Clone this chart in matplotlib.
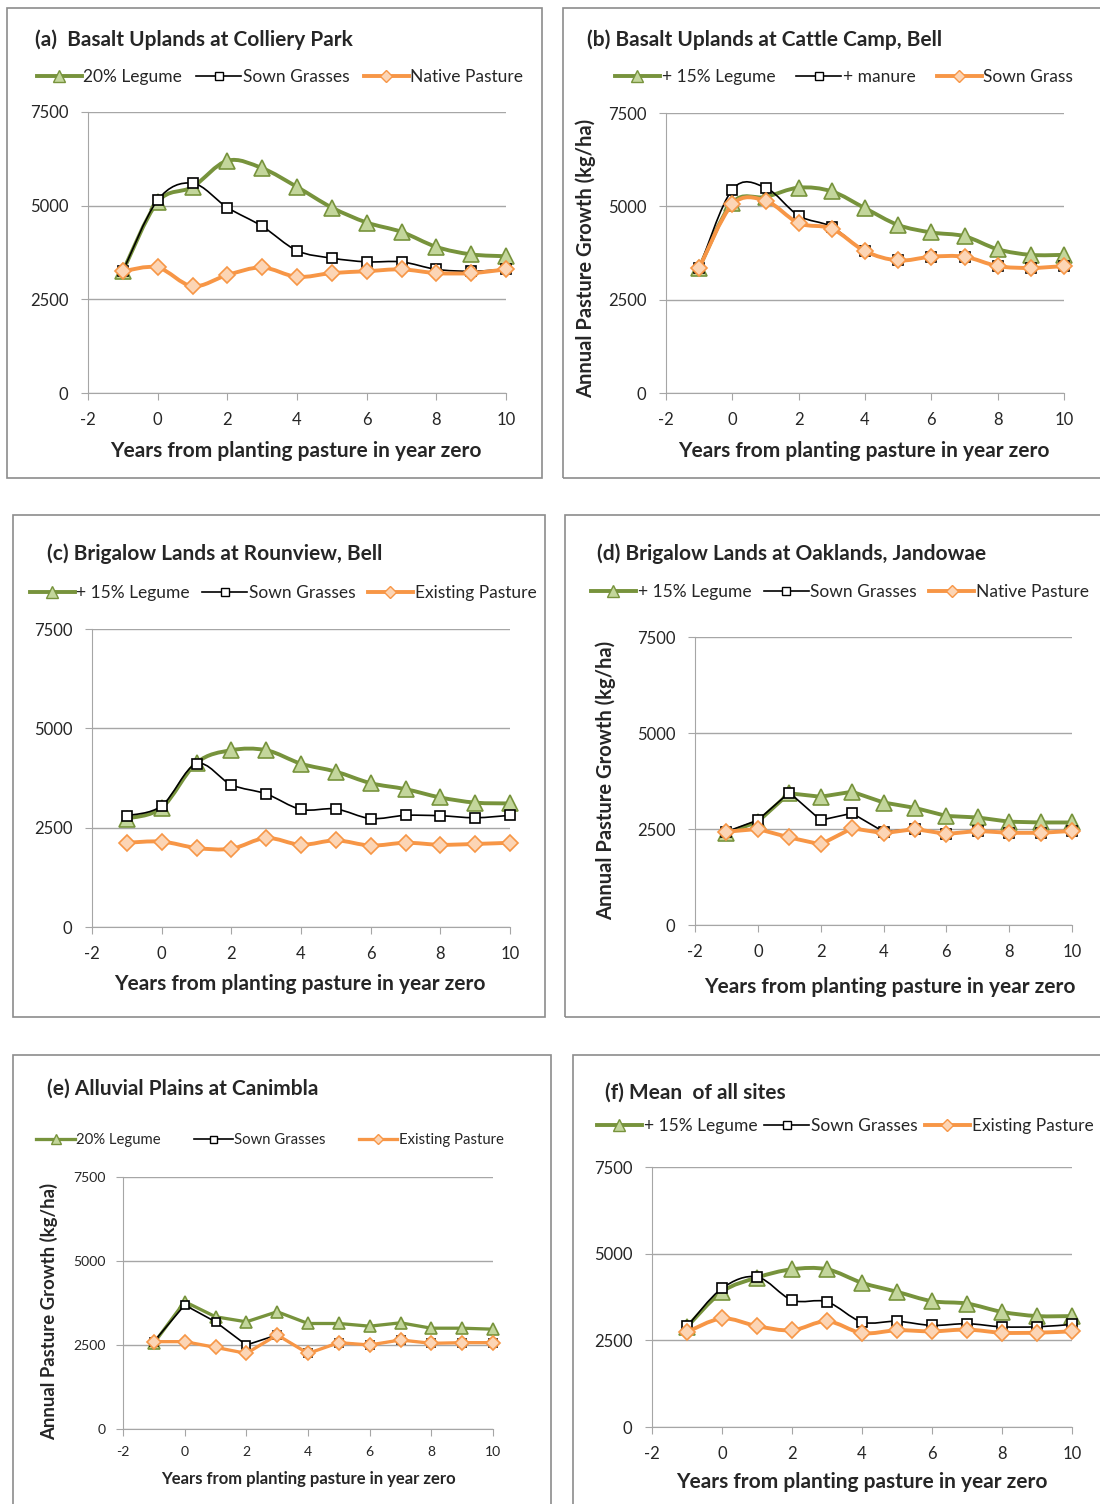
import matplotlib
matplotlib.use('Agg')
import matplotlib.pyplot as plt
from matplotlib.path import Path
from matplotlib.patches import PathPatch, Rectangle
from matplotlib.lines import Line2D

plt.rcParams['font.family'] = ['Lato', 'DejaVu Sans']
plt.rcParams['axes.unicode_minus'] = False

W, H = 1100, 1504

YEARS = [-1, 0, 1, 2, 3, 4, 5, 6, 7, 8, 9, 10]

# (a) Basalt Uplands at Colliery Park
a_legume = [3250, 5100, 5500, 6200, 6000, 5500, 4950, 4550, 4300, 3900, 3700, 3650]
a_sown = [3250, 5150, 5600, 4950, 4450, 3800, 3600, 3500, 3500, 3300, 3250, 3300]
a_native = [3250, 3350, 2850, 3150, 3350, 3100, 3200, 3250, 3300, 3200, 3200, 3300]

# (b) Basalt Uplands at Cattle Camp, Bell
b_legume = [3350, 5100, 5250, 5500, 5400, 4950, 4500, 4300, 4200, 3850, 3700, 3700]
b_manure = [3350, 5450, 5500, 4750, 4450, 3800, 3550, 3650, 3650, 3400, 3350, 3400]
b_sown = [3350, 5050, 5150, 4550, 4400, 3800, 3550, 3650, 3650, 3400, 3350, 3400]

# (c) Brigalow Lands at Rounview, Bell
c_legume = [2730, 3000, 4130, 4450, 4450, 4110, 3910, 3620, 3470, 3260, 3130, 3110]
c_sown = [2800, 3050, 4110, 3580, 3350, 2960, 2970, 2730, 2810, 2800, 2750, 2810]
c_existing = [2120, 2150, 1990, 1970, 2240, 2070, 2180, 2050, 2120, 2070, 2090, 2120]

# (d) Brigalow Lands at Oaklands, Jandowae
d_legume = [2390, 2690, 3430, 3340, 3470, 3190, 3050, 2840, 2800, 2690, 2670, 2670]
d_sown = [2430, 2730, 3450, 2730, 2910, 2430, 2500, 2370, 2450, 2400, 2400, 2450]
d_native = [2430, 2500, 2280, 2100, 2520, 2390, 2500, 2370, 2450, 2400, 2400, 2450]

# (e) Alluvial Plains at Canimbla
e_legume = [2550, 3790, 3340, 3190, 3490, 3140, 3140, 3060, 3160, 3000, 3000, 2970]
e_sown = [2600, 3690, 3190, 2500, 2800, 2250, 2570, 2500, 2650, 2550, 2570, 2570]
e_existing = [2600, 2600, 2430, 2250, 2800, 2250, 2570, 2500, 2650, 2550, 2570, 2570]

# (f) Mean of all sites
f_legume = [2890, 3900, 4310, 4550, 4550, 4160, 3900, 3630, 3560, 3320, 3200, 3200]
f_sown = [2900, 4000, 4330, 3660, 3610, 3030, 3050, 2930, 2980, 2890, 2890, 2960]
f_existing = [2740, 3130, 2910, 2790, 3050, 2710, 2790, 2760, 2810, 2720, 2720, 2760]

GREEN, GREEN_FILL = '#77933C', '#C3D69B'
ORANGE, ORANGE_FILL = '#F79646', '#FCD5B5'
GRID = '#A6A6A6'
TEXT = '#262626'
YLABEL = 'Annual Pasture Growth (kg/ha)'
XLABEL = 'Years from planting pasture in year zero'


def fx(px):
    return px / W


def fy(py):
    return 1 - py / H


def smooth_path(x, y):
    # Excel style smoothed line: cubic bezier through each point
    n = len(x)
    verts = [(x[0], y[0])]
    codes = [Path.MOVETO]
    for i in range(n - 1):
        x0, y0 = (x[i - 1], y[i - 1]) if i > 0 else (x[i], y[i])
        x3, y3 = (x[i + 2], y[i + 2]) if i + 2 < n else (x[i + 1], y[i + 1])
        c1 = (x[i] + (x[i + 1] - x0) / 6, y[i] + (y[i + 1] - y0) / 6)
        c2 = (x[i + 1] - (x3 - x[i]) / 6, y[i + 1] - (y3 - y[i]) / 6)
        verts += [c1, c2, (x[i + 1], y[i + 1])]
        codes += [Path.CURVE4] * 3
    return Path(verts, codes)


def draw_series(ax, y, color, fill, marker, ms, lw, smooth, z):
    if smooth:
        ax.add_patch(PathPatch(smooth_path(YEARS, y), facecolor='none',
                               edgecolor=color, lw=lw, zorder=z))
    else:
        ax.plot(YEARS, y, color=color, lw=lw, zorder=z)
    ax.plot(YEARS, y, ls='none', marker=marker, ms=ms, mfc=fill, mec=color,
            mew=1.2, zorder=z + 0.5)


fig = plt.figure(figsize=(11, 15.04), dpi=100)

panels = [
    dict(box=(7, 8, 542, 478), ax=(88, 112, 506, 393), title=(35, 40),
         text='(a)  Basalt Uplands at Colliery Park',
         labels=['20% Legume', 'Sown Grasses', 'Native Pasture'], leg=(280, 77), colsp=0.8,
         series=(a_legume, a_sown, a_native), ylab=None, xlab=(296, 451), smooth=True, s=1.0),
    dict(box=(563, 8, 1110, 478), ax=(666, 113, 1064, 393), title=(587, 40),
         text='(b) Basalt Uplands at Cattle Camp, Bell',
         labels=['+ 15% Legume', '+ manure', 'Sown Grass'], leg=(844, 77), colsp=1.2,
         series=(b_legume, b_manure, b_sown), ylab=(586, 258), xlab=(864, 451), smooth=True, s=1.0),
    dict(box=(13, 515, 545, 1017), ax=(92, 629, 510, 927), title=(47, 554),
         text='(c) Brigalow Lands at Rounview, Bell',
         labels=['+ 15% Legume', 'Sown Grasses', 'Existing Pasture'], leg=(283, 593), colsp=0.7,
         series=(c_legume, c_sown, c_existing), ylab=None, xlab=(300, 984), smooth=True, s=1.0),
    dict(box=(565, 515, 1110, 1017), ax=(695, 637, 1072, 925), title=(597, 554),
         text='(d) Brigalow Lands at Oaklands, Jandowae',
         labels=['+ 15% Legume', 'Sown Grasses', 'Native Pasture'], leg=(840, 592), colsp=0.7,
         series=(d_legume, d_sown, d_native), ylab=(606, 780), xlab=(890, 987), smooth=False, s=1.0),
    dict(box=(13, 1055, 551, 1514), ax=(123, 1177, 493, 1429), title=(47, 1089),
         text='(e) Alluvial Plains at Canimbla',
         labels=['20% Legume', 'Sown Grasses', 'Existing Pasture'], leg=(270, 1140), colsp=2.2,
         series=(e_legume, e_sown, e_existing), ylab=(49, 1311), xlab=(308, 1479), smooth=False, s=0.84),
    dict(box=(573, 1055, 1110, 1514), ax=(652, 1167, 1072, 1427), title=(605, 1093),
         text='(f) Mean  of all sites',
         labels=['+ 15% Legume', 'Sown Grasses', 'Existing Pasture'], leg=(845, 1126), colsp=0.4,
         series=(f_legume, f_sown, f_existing), ylab=None, xlab=(862, 1482), smooth=True, s=1.0),
]

for p in panels:
    bx0, by0, bx1, by1 = p['box']
    fig.add_artist(Rectangle((fx(bx0), fy(by1)), fx(bx1) - fx(bx0), fy(by0) - fy(by1),
                             transform=fig.transFigure, fill=False, ec='#8C8C8C', lw=1.2))
    s = p['s']
    x0, y0, x1, y1 = p['ax']
    ax = fig.add_axes([fx(x0), fy(y1), fx(x1) - fx(x0), fy(y0) - fy(y1)])
    ax.set_xlim(-2, 10)
    ax.set_ylim(0, 7500)
    ax.set_xticks(range(-2, 11, 2))
    ax.set_yticks([0, 2500, 5000, 7500])
    ax.grid(axis='y', color=GRID, lw=1)
    ax.set_axisbelow(True)
    for side in ['top', 'right']:
        ax.spines[side].set_visible(False)
    for side in ['left', 'bottom']:
        ax.spines[side].set_color(GRID)
    ax.tick_params(axis='x', direction='out', length=5, color=GRID,
                   labelsize=12 * s, pad=9 * s, labelcolor=TEXT)
    ax.tick_params(axis='y', direction='out', length=5, color=GRID,
                   labelsize=12 * s, pad=9 * s, labelcolor=TEXT)

    leg, sown, nat = p['series']
    draw_series(ax, leg, GREEN, GREEN_FILL, '^', 11 * s, 2.8 * s, p['smooth'], 3)
    draw_series(ax, sown, 'black', 'white', 's', 6.5 * s, 1.2, p['smooth'], 4)
    draw_series(ax, nat, ORANGE, ORANGE_FILL, 'D', 8.5 * s, 2.8 * s, p['smooth'], 5)
    for art in ax.patches + ax.lines:
        art.set_clip_on(False)

    tx, ty = p['title']
    fig.text(fx(tx), fy(ty), p['text'], fontsize=15, fontweight='bold',
             ha='left', va='center', color=TEXT)

    handles = [
        Line2D([], [], color=GREEN, lw=2.8 * s, marker='^', ms=8 * s, mfc=GREEN_FILL, mec=GREEN),
        Line2D([], [], color='black', lw=1.2, marker='s', ms=6 * s, mfc='white', mec='black'),
        Line2D([], [], color=ORANGE, lw=2.8 * s, marker='D', ms=6.5 * s, mfc=ORANGE_FILL, mec=ORANGE),
    ]
    lx, ly = p['leg']
    fig.legend(handles, p['labels'], loc='center', bbox_to_anchor=(fx(lx), fy(ly)),
               ncol=3, frameon=False, fontsize=12.5 * (0.86 if s < 1 else 1), handlelength=2.6,
               handletextpad=0.1, columnspacing=p['colsp'], borderpad=0, labelcolor=TEXT)

    xl, yl = p['xlab']
    fig.text(fx(xl), fy(yl), XLABEL, fontsize=15 * (0.8 if s < 1 else 1), fontweight='bold',
             ha='center', va='center', color=TEXT)
    if p['ylab']:
        yx, yy = p['ylab']
        fig.text(fx(yx), fy(yy), YLABEL, fontsize=14.5 * (0.92 if s < 1 else 1),
                 fontweight='bold', rotation=90, ha='center', va='center', color=TEXT)

fig.savefig('out.png', dpi=100, facecolor='white')
